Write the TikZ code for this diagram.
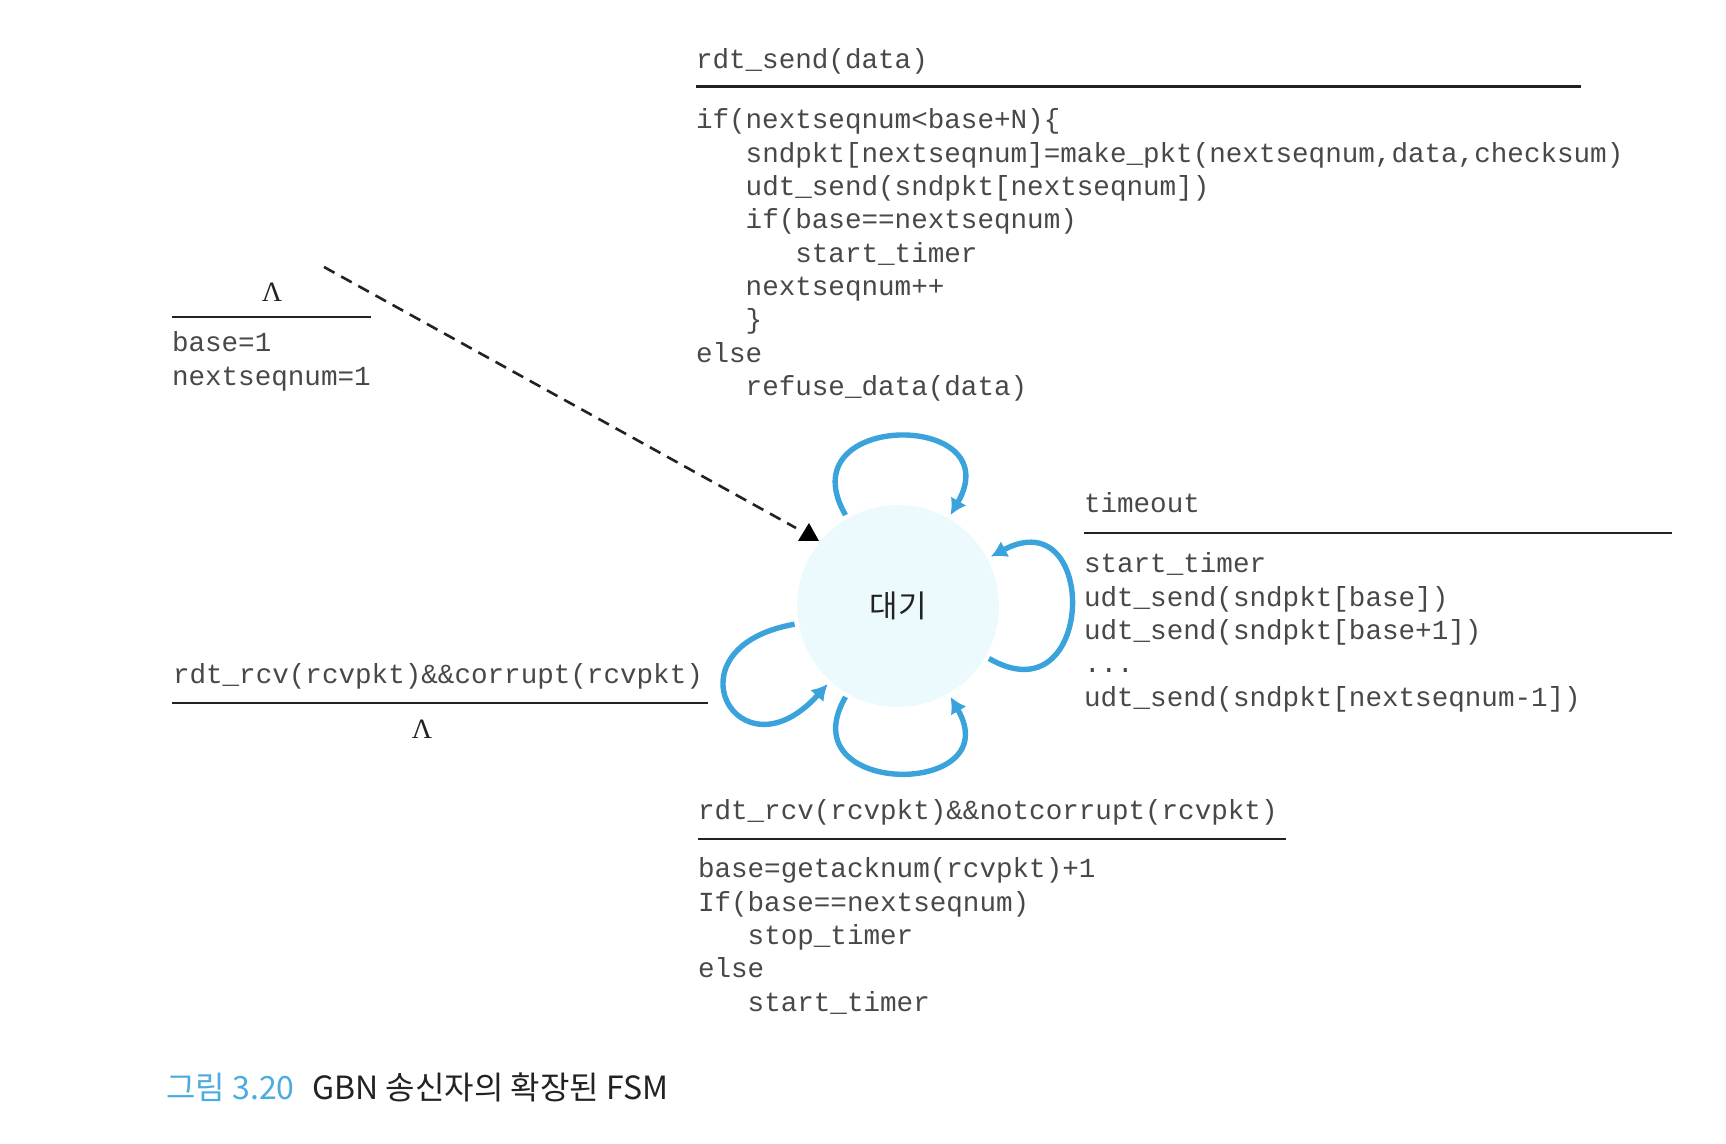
\documentclass[tikz,border=0pt]{standalone}
\usepackage{fontspec}
\setmonofont{Liberation Mono}
\newfontfamily\kofont{Noto Sans CJK KR}
\newfontfamily\lamfont{Liberation Serif}
\usepackage{tikz}
\usetikzlibrary{arrows.meta}
\definecolor{loopblue}{RGB}{59,163,219}
\definecolor{waitfill}{RGB}{236,250,253}
\definecolor{codegray}{RGB}{72,72,72}
\definecolor{rulegray}{RGB}{34,34,34}
\definecolor{capblue}{RGB}{77,172,222}
\newcommand{\indt}{\phantom{xxx}}
\tikzstyle{code}=[inner sep=0, outer sep=0, align=left, text=codegray,
                  font=\ttfamily\fontsize{13.8}{16.65}\selectfont]
\tikzstyle{lam}=[inner sep=0, anchor=base, text=rulegray,
                 font=\lamfont\fontsize{14}{16}\selectfont]
\tikzstyle{rule}=[draw=rulegray, line width=1.2pt]
\tikzstyle{waitstate}=[circle, fill=waitfill, minimum size=101pt, inner sep=0,
                outer sep=2pt, text=rulegray, font=\kofont\fontsize{15.5}{18}\selectfont]
\tikzstyle{selfloop}=[draw=loopblue, line width=2.7pt,
                -{Latex[length=8pt,width=9pt]}]
\tikzstyle{initline}=[draw=rulegray, line width=1.3pt, dash pattern=on 6pt off 3.8pt]
\tikzstyle{caption}=[inner sep=0, anchor=base west, text=rulegray,
                font=\kofont\fontsize{16}{19}\selectfont]

\begin{document}
\begin{tikzpicture}[x=0.5pt, y=0.5pt]
\path[use as bounding box] (0,0) rectangle (1726,1144);
\node[waitstate] (wait) at (898,538) {대기};
% initial transition
\node[lam] (initev) at (272,842) {Λ};
\draw[rule] (172,827) -- (371,827);
\node[code, anchor=north west] (initact) at (172,815.3) {\strut base=1\\
  nextseqnum=1};
\coordinate (initstart) at (324,877);
\coordinate (inittip) at (796,616);
\draw[initline] (initstart) -- (inittip);
\fill[black] (809,621) -- (798,603) -- (819,603) -- cycle;
% rdt_send
\node[code, anchor=base west] (sendev) at (696,1075) {rdt\_send(data)};
\draw[rule] (696,1057.5) -- (1581,1057.5);
\node[code, anchor=north west] (sendact) at (696,1038.3) {\strut if(nextseqnum<base+N)\{\\
  \indt sndpkt[nextseqnum]=make\_pkt(nextseqnum,data,checksum)\\
  \indt udt\_send(sndpkt[nextseqnum])\\
  \indt if(base==nextseqnum)\\
  \indt\indt start\_timer\\
  \indt nextseqnum++\\
  \indt \}\\
  else\\
  \indt refuse\_data(data)};
% timeout
\node[code, anchor=base west] (toev) at (1084,631) {timeout};
\draw[rule] (1084,611) -- (1672,611);
\node[code, anchor=north west] (toact) at (1084,594.3) {\strut start\_timer\\
  udt\_send(sndpkt[base])\\
  udt\_send(sndpkt[base+1])\\
  ...\\
  udt\_send(sndpkt[nextseqnum-1])};
% corrupt
\node[code, anchor=base west] (corev) at (173,460) {rdt\_rcv(rcvpkt)\&\&corrupt(rcvpkt)};
\draw[rule] (172,441) -- (708,441);
\node[lam] (coract) at (422,405) {Λ};
% notcorrupt
\node[code, anchor=base west] (ackev) at (698,324) {rdt\_rcv(rcvpkt)\&\&notcorrupt(rcvpkt)};
\draw[rule] (698,305) -- (1286,305);
\node[code, anchor=north west] (ackact) at (698,289.3) {\strut base=getacknum(rcvpkt)+1\\
  If(base==nextseqnum)\\
  \indt stop\_timer\\
  else\\
  \indt start\_timer};
\path
  (wait) edge[selfloop, out=120, in=60, looseness=2.95] (wait)
  (wait) edge[selfloop, out=-30, in=28, looseness=3.1] (wait)
  (wait) edge[selfloop, out=-120, in=-60, looseness=2.85] (wait)
  (wait) edge[selfloop, out=190, in=228, looseness=5.0] (wait);
\node[caption] (cap) at (166,44) {\textcolor{capblue}{그림 3.20}\hspace{9pt}GBN 송신자의 확장된 FSM};
\end{tikzpicture}
\end{document}
